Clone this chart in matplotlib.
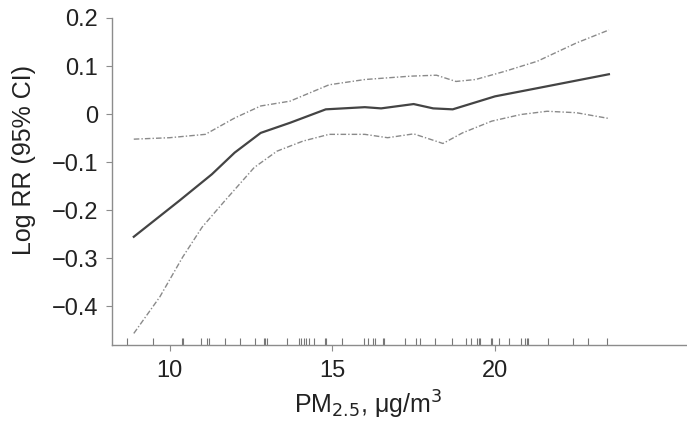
import numpy as np
import matplotlib
matplotlib.use("Agg")
import matplotlib.pyplot as plt

plt.rcParams['font.family'] = ['Liberation Sans', 'DejaVu Sans']

# fitted curve (log RR) and 95% CI
x_fit = [8.9, 10.3, 11.3, 12.0, 12.8, 13.7, 14.8, 16.0, 16.5, 17.5, 18.1, 18.7, 20.0, 21.3, 23.5]
rr = [-0.255, -0.18, -0.125, -0.08, -0.039, -0.018, 0.01, 0.0145, 0.012, 0.021, 0.012, 0.01, 0.037, 0.054, 0.083]

x_up = [8.9, 10.0, 11.1, 12.0, 12.8, 13.7, 14.9, 16.0, 17.4, 18.2, 18.8, 19.4, 20.3, 21.3, 22.5, 23.5]
ci_up = [-0.052, -0.049, -0.042, -0.008, 0.017, 0.027, 0.061, 0.072, 0.079, 0.081, 0.068, 0.072, 0.089, 0.11, 0.148, 0.175]

x_lo = [8.9, 9.7, 10.4, 11.0, 11.7, 12.6, 13.3, 14.1, 14.9, 16.0, 16.7, 17.5, 18.0, 18.4, 19.0, 19.9, 20.8, 21.6, 22.5, 23.5]
ci_lo = [-0.456, -0.38, -0.2975, -0.235, -0.18, -0.111, -0.077, -0.056, -0.042, -0.042, -0.049, -0.041, -0.052,
         -0.061, -0.039, -0.0145, -0.0007, 0.006, 0.003, -0.009]

# observed PM2.5 values (rug)
rug = [8.69, 9.48, 10.39, 10.42, 10.96, 11.15, 11.22, 11.69, 12.16, 12.64, 12.90, 12.93, 13.00, 13.60,
       13.98, 14.05, 14.12, 14.19, 14.28, 14.43, 14.79, 14.82, 15.31, 15.98, 16.09, 16.24, 16.32, 16.55,
       16.58, 17.22, 17.57, 17.71, 18.16, 18.67, 19.12, 19.25, 19.45, 19.50, 19.53, 19.87, 19.92, 20.12,
       20.43, 20.80, 20.92, 20.98, 21.02, 21.62, 22.40, 22.86, 23.43]

fig = plt.figure(figsize=(6.87, 4.28), dpi=100)
ax = fig.add_axes([0.163, 0.194, 0.837, 0.764])

ax.plot(x_fit, rr, color='#444444', lw=1.6)
ax.plot(x_up, ci_up, color='#8a8a8a', lw=1.0, dashes=(4, 1.5, 1, 1.5))
ax.plot(x_lo, ci_lo, color='#8a8a8a', lw=1.0, dashes=(4, 1.5, 1, 1.5))

# rug along the x axis
ax.vlines(rug, 0, 0.02, transform=ax.get_xaxis_transform(), color='#777777', lw=0.8)

ax.set_xlim(8.23, 25.9)
ax.set_ylim(-0.48, 0.2)
ax.set_xticks([10, 15, 20])
ax.set_yticks([-0.4, -0.3, -0.2, -0.1, 0, 0.1, 0.2])
ax.set_yticklabels(['\u22120.4', '\u22120.3', '\u22120.2', '\u22120.1', '0', '0.1', '0.2'])

for s in ['top', 'right']:
    ax.spines[s].set_visible(False)
for s in ['left', 'bottom']:
    ax.spines[s].set_color('#8c8c8c')
    ax.spines[s].set_linewidth(1.0)

ax.tick_params(axis='both', colors='#8c8c8c', labelcolor='#222222', labelsize=17, length=4, width=0.8)
ax.tick_params(axis='y', pad=6)
ax.tick_params(axis='x', pad=7)

ax.set_ylabel('Log RR (95% CI)', fontsize=18, color='#222222')
ax.yaxis.set_label_coords(-0.132, 0.566)
ax.set_xlabel('PM$_{2.5}$, \u03bcg/m$^3$', fontsize=18, color='#222222')
ax.xaxis.set_label_coords(0.445, -0.135)

fig.savefig('out.png', dpi=100)
